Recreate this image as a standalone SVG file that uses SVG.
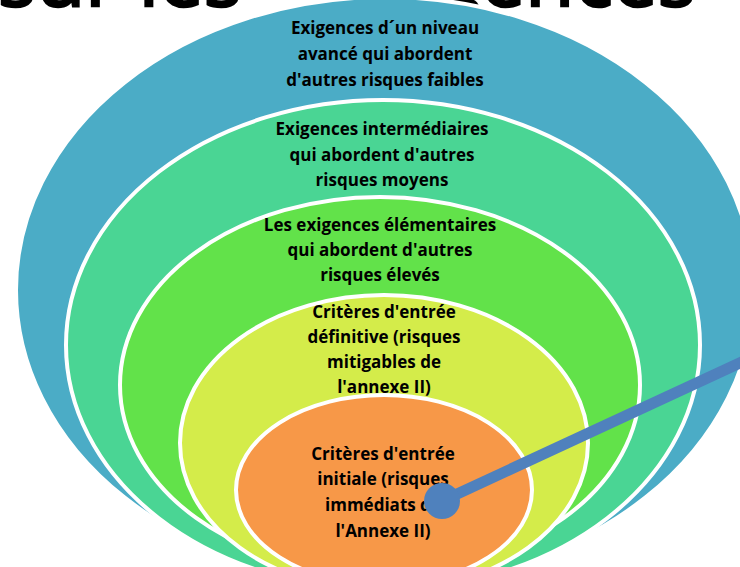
<svg xmlns="http://www.w3.org/2000/svg" width="740" height="567" viewBox="0 0 740 567">
<style>
.ring{stroke:#FFFFFF;stroke-width:4}
.lbl{font-family:"Open Sans","Liberation Sans",sans-serif;font-weight:700;font-size:17px;fill:#000000;text-anchor:middle}
.title{font-family:"Open Sans","Liberation Sans",sans-serif;font-size:80px;fill:#000000;stroke:#000000;stroke-width:2.5}
.conn{stroke:#4F81BD;stroke-width:11;fill:none}
</style>
<rect width="740" height="567" fill="#FFFFFF"/>
<text class="title" x="-2" y="6"><tspan>sur les</tspan><tspan x="330">exigences</tspan></text>
<g id="niveau-avance">
<ellipse class="ring" cx="385" cy="290" rx="369" ry="293" fill="#4BACC6"/>
<text class="lbl"><tspan x="385" y="34">Exigences d´un niveau</tspan><tspan x="385" y="60">avancé qui abordent</tspan><tspan x="385" y="86">d'autres risques faibles</tspan></text>
</g>
<g id="intermediaires">
<ellipse class="ring" cx="383" cy="345" rx="317" ry="245" fill="#4AD594"/>
<text class="lbl"><tspan x="382" y="135">Exigences intermédiaires</tspan><tspan x="382" y="161">qui abordent d'autres</tspan><tspan x="382" y="186">risques moyens</tspan></text>
</g>
<g id="elementaires">
<ellipse class="ring" cx="380" cy="385" rx="260" ry="188" fill="#62E24A"/>
<text class="lbl"><tspan x="380" y="231">Les exigences élémentaires</tspan><tspan x="380" y="256">qui abordent d'autres</tspan><tspan x="380" y="281">risques élevés</tspan></text>
</g>
<g id="entree-definitive">
<ellipse class="ring" cx="384" cy="443" rx="204" ry="148" fill="#D4EC4A"/>
<text class="lbl"><tspan x="384" y="318">Critères d'entrée</tspan><tspan x="384" y="343">définitive (risques</tspan><tspan x="384" y="368">mitigables de</tspan><tspan x="384" y="393">l'annexe II)</tspan></text>
</g>
<g id="entree-initiale">
<ellipse class="ring" cx="384" cy="490" rx="148" ry="95" fill="#F79848"/>
<text class="lbl"><tspan x="383" y="460">Critères d'entrée</tspan><tspan x="383" y="485">initiale (risques</tspan><tspan x="383" y="511">immédiats de</tspan><tspan x="383" y="537">l'Annexe II)</tspan></text>
</g>
<g id="connectors">
<line class="conn" x1="442" y1="501" x2="770" y2="349"/>
<circle cx="442" cy="501" r="18" fill="#4F81BD"/>
</g>
</svg>
